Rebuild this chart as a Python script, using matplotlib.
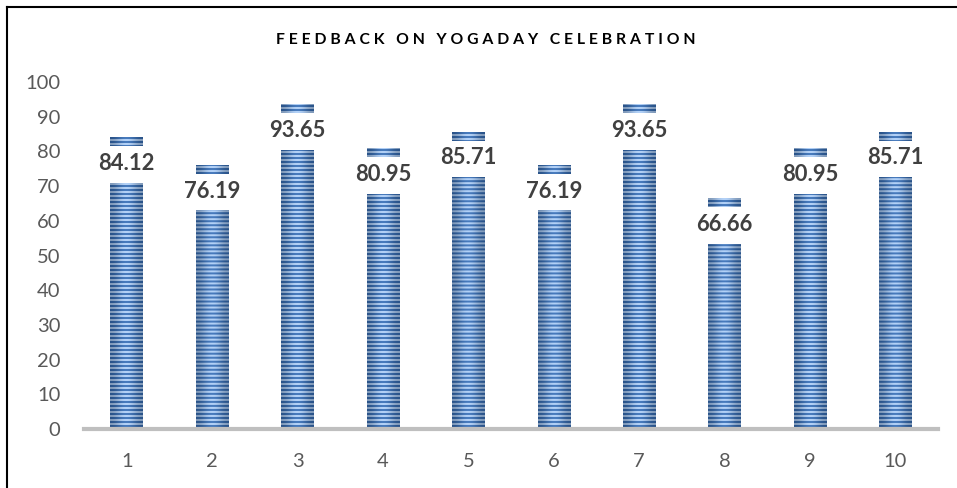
import numpy as np
import matplotlib
matplotlib.use('Agg')
import matplotlib.pyplot as plt
from matplotlib.lines import Line2D

categories = ['1', '2', '3', '4', '5', '6', '7', '8', '9', '10']
values = [84.12, 76.19, 93.65, 80.95, 85.71, 76.19, 93.65, 66.66, 80.95, 85.71]
yticks = [0, 10, 20, 30, 40, 50, 60, 70, 80, 90, 100]
title = 'FEEDBACK ON YOGADAY CELEBRATION'

plt.rcParams['font.family'] = ['Lato', 'DejaVu Sans']

fig = plt.figure(figsize=(9.57, 4.88), dpi=100)
ax = fig.add_axes([0.0878, 0.1209, 0.8924, 0.711])

x = np.arange(1, len(values) + 1)
w = 0.38
bars = ax.bar(x, values, width=w, color='#4f81bd', zorder=2)

# striped fill, drawn as an image inside each bar
px_per_unit = 347 / 100
for b, v in zip(bars, values):
    rows = int(round(v * px_per_unit))
    cols = 33
    stripe = np.array([(i % 4) < 2 for i in range(rows)], dtype=float)[::-1]
    t = np.linspace(-1, 1, cols)
    shade = np.cos(t * np.pi / 2) ** 2
    dark = np.array([0.20, 0.40, 0.66])
    light = np.array([0.62, 0.74, 0.89])
    base = dark[None, None, :] * (1 - stripe[:, None, None]) + light[None, None, :] * stripe[:, None, None]
    img = base * (0.82 + 0.18 * shade[None, :, None]) + 0.08 * shade[None, :, None]
    img = np.clip(img, 0, 1)
    x0 = b.get_x()
    im = ax.imshow(img, extent=[x0, x0 + w, 0, v], aspect='auto',
                   interpolation='bilinear', zorder=3)
    im.set_clip_path(b)

# white label boxes cut into the bars, with the value on top
for xi, v in zip(x, values):
    ax.bar(xi, 10.6, bottom=v - 13.2, width=w + 0.02, color='white', zorder=4)
    ax.text(xi, v - 7.6, f'{v:.2f}', ha='center', va='center',
            fontsize=15.8, fontweight='bold', color='#404040', zorder=5)

ax.set_xlim(0.5, 10.5)
ax.set_ylim(0, 100)
ax.set_yticks(yticks)
ax.set_xticks(x)
ax.set_xticklabels(categories)
ax.tick_params(axis='both', length=0, labelsize=14.5, labelcolor='#595959')
ax.tick_params(axis='y', pad=17)
ax.tick_params(axis='x', pad=17)
for s in ['top', 'right', 'left']:
    ax.spines[s].set_visible(False)
ax.spines['bottom'].set_color('#bfbfbf')
ax.spines['bottom'].set_linewidth(3)
ax.spines['bottom'].set_zorder(6)

fig.text(486 / 957, 1 - 40 / 488, ' '.join(title),
         ha='center', va='center', fontsize=11.3, fontweight='bold', color='black')

# outer frame: top and left edges
fig.add_artist(Line2D([7 / 957, 1], [1 - 7 / 488, 1 - 7 / 488], color='black', lw=1.5))
fig.add_artist(Line2D([7 / 957, 7 / 957], [0, 1 - 7 / 488], color='black', lw=1.5))

fig.savefig('out.png', dpi=100)
